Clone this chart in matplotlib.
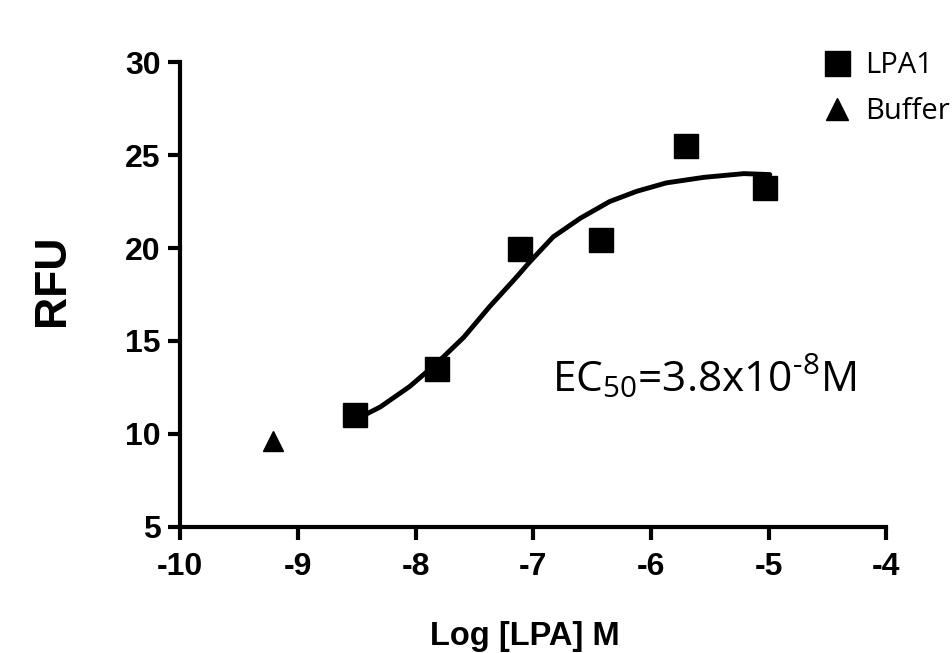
import matplotlib
matplotlib.use('Agg')
import matplotlib.pyplot as plt
from matplotlib.lines import Line2D

# LPA1 response
lpa_x = [-8.51, -7.82, -7.11, -6.42, -5.70, -5.03]
lpa_y = [11.0, 13.5, 19.95, 20.45, 25.5, 23.25]

buffer_x = [-9.21]
buffer_y = [9.6]

# fitted curve
fit_x = [-8.51, -8.44, -8.30, -8.05, -7.82, -7.59, -7.37, -7.14, -7.03,
         -6.83, -6.60, -6.35, -6.12, -5.87, -5.55, -5.21, -4.99]
fit_y = [10.9, 11.0, 11.45, 12.55, 13.8, 15.2, 16.85, 18.45, 19.25,
         20.6, 21.6, 22.5, 23.05, 23.5, 23.8, 24.0, 23.95]

x_ticks = [-10, -9, -8, -7, -6, -5, -4]
y_ticks = [5, 10, 15, 20, 25, 30]

plt.rcParams['mathtext.fontset'] = 'custom'
plt.rcParams['mathtext.rm'] = 'Open Sans'
plt.rcParams['mathtext.default'] = 'rm'

fig = plt.figure(figsize=(9.53, 6.53), dpi=100)
ax = fig.add_axes([0.189, 0.193, 0.741, 0.712])

ax.plot(fit_x, fit_y, color='black', linewidth=3.5, solid_capstyle='round')
ax.plot(lpa_x, lpa_y, 's', color='black', markersize=17, linestyle='none')
ax.plot(buffer_x, buffer_y, '^', color='black', markersize=15, linestyle='none')

ax.set_xlim(-10, -4)
ax.set_ylim(5, 30)
ax.set_xticks(x_ticks)
ax.set_yticks(y_ticks)
ax.set_xticklabels([str(t) for t in x_ticks], fontfamily='Liberation Sans',
                   fontweight='bold', fontsize=23)
ax.set_yticklabels([str(t) for t in y_ticks], fontfamily='Liberation Sans',
                   fontweight='bold', fontsize=23)

for side in ['top', 'right']:
    ax.spines[side].set_visible(False)
for side in ['left', 'bottom']:
    ax.spines[side].set_linewidth(3)
ax.tick_params(width=3, length=9, direction='out')
ax.tick_params(axis='x', pad=9)
ax.tick_params(axis='y', pad=5)

ax.set_xlabel('Log [LPA] M', fontfamily='Liberation Sans', fontweight='bold',
              fontsize=23.5, va='baseline')
ax.xaxis.set_label_coords(0.488, -0.254)
ax.set_ylabel('RFU', fontfamily='Liberation Sans', fontweight='bold',
              fontsize=32, va='center')
ax.yaxis.set_label_coords(-0.181, 0.531)

ax.text(-5.55, 12.26, r'EC$_{50}$=3.8x10$^{\text{-}8}$M', fontfamily='Open Sans',
        fontsize=30.5, ha='center', va='baseline')

handles = [Line2D([], [], marker='s', color='black', linestyle='none', markersize=18),
           Line2D([], [], marker='^', color='black', linestyle='none', markersize=16)]
fig.legend(handles, ['LPA1', 'Buffer'], loc='upper left',
           bbox_to_anchor=(0.863, 0.922), frameon=False,
           prop={'family': 'Open Sans', 'size': 21}, borderpad=0,
           handlelength=1.0, handletextpad=0.46, labelspacing=0.58,
           borderaxespad=0)

fig.savefig('out.png', dpi=100)
